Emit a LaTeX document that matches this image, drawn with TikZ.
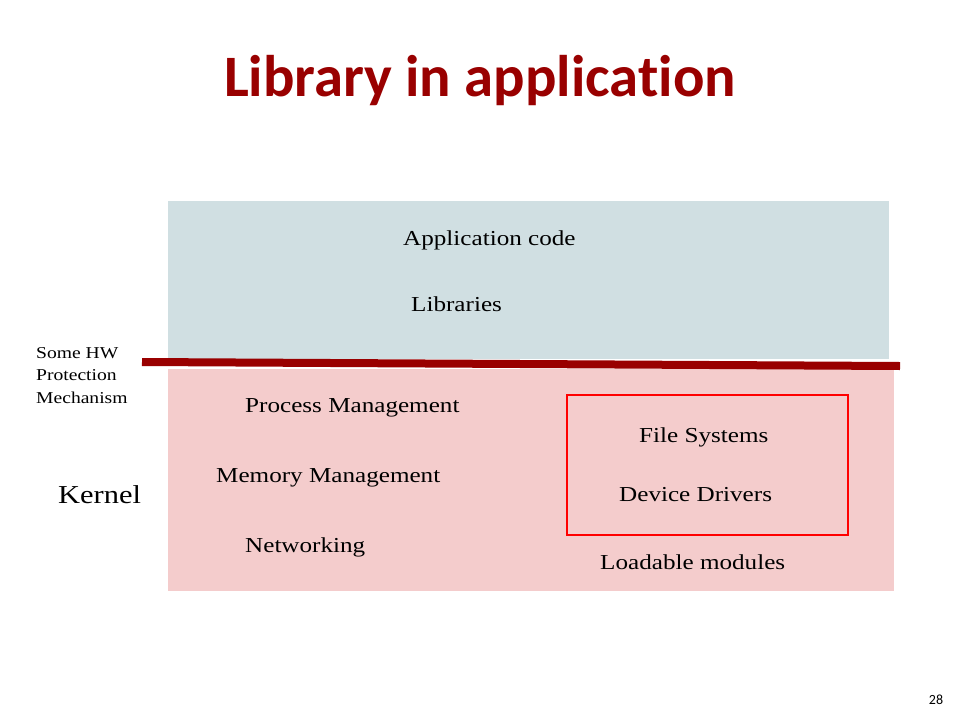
\documentclass[tikz,border=0pt]{standalone}
\usepackage{fontspec}
\setmainfont{Liberation Serif}[FakeStretch=1.18]
\newfontfamily\titlefont{Carlito}[Ligatures=NoCommon]
\definecolor{darkred}{HTML}{990000}
\definecolor{userbg}{HTML}{D0DFE2}
\definecolor{kernelbg}{HTML}{F4CCCC}
\begin{document}
\begin{tikzpicture}[x=1pt,y=-1pt,
  lbl/.style={anchor=west,inner sep=0pt,font=\fontsize{21.3}{25}\selectfont},
  small/.style={anchor=north west,inner sep=0pt,align=left,font=\fontsize{16.6}{22.5}\selectfont}]
\useasboundingbox (0,0) rectangle (960,720);
% title
\node[font=\titlefont\bfseries\fontsize{58.7}{66}\selectfont,text=darkred] (title) at (480,81) {Library in application};
% user space and kernel space
\fill[userbg] (168,201) rectangle (889,359);
\fill[kernelbg] (168,369) rectangle (894,591);
% protection boundary
\draw[darkred,line width=8pt] (142,362) -- (900,366);
% loadable modules frame
\draw[red,line width=2.5pt] (567,395) rectangle (848,535);
% labels
\node[lbl] (app) at (403,240) {Application code};
\node[lbl] (libs) at (411,304) {Libraries};
\node[lbl] (pm) at (245,408) {Process Management};
\node[lbl] (mm) at (216,478) {Memory Management};
\node[lbl] (net) at (245,547) {Networking};
\node[lbl] (fs) at (639,437) {File Systems};
\node[lbl] (dd) at (619,495) {Device Drivers};
\node[lbl] (lm) at (600,562) {Loadable modules};
\node[lbl,font=\fontsize{25.8}{30}\selectfont] (kernel) at (58,495) {Kernel};
\node[small] (hw) at (36,347) {Some HW\\Protection\\Mechanism};
\node[font=\titlefont\fontsize{14}{16}\selectfont] (page) at (936,700) {28};
\end{tikzpicture}
\end{document}
